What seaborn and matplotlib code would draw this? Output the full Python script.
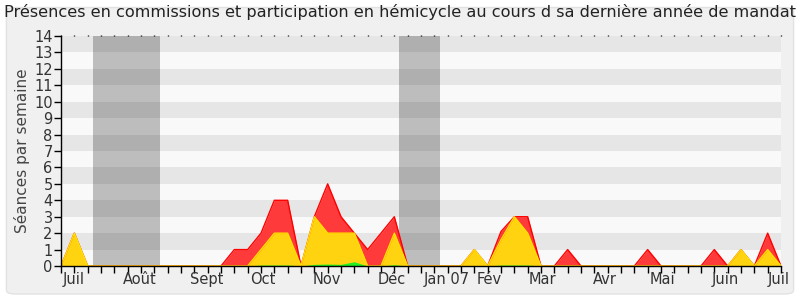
import numpy as np
import pandas as pd
import matplotlib
matplotlib.use("Agg")
import matplotlib.pyplot as plt
from matplotlib.patches import FancyBboxPatch
import seaborn as sns

# ---- data (weekly values, 55 weeks) ----
hemicycle = [0, 2, 0, 0, 0, 0, 0, 0, 0, 0, 0, 0, 0, 1, 1, 2, 4, 4, 0, 3,
             5, 3, 2, 1, 2, 3, 0, 0, 0, 0, 0, 1, 0, 2.1, 3, 3, 0, 0, 1, 0,
             0, 0, 0, 0, 1, 0, 0, 0, 0, 1, 0, 1, 0, 2, 0]
commission = [0, 2, 0, 0, 0, 0, 0, 0, 0, 0, 0, 0, 0, 0, 0, 1, 2, 2, 0, 3,
              2, 2, 2, 0, 0, 2, 0, 0, 0, 0, 0, 1, 0, 1.6, 3, 2, 0, 0, 0, 0,
              0, 0, 0, 0, 0, 0, 0, 0, 0, 0, 0, 1, 0, 1, 0]
questions = [0, 0, 0, 0, 0, 0, 0, 0, 0, 0, 0, 0, 0, 0, 0, 0.06, 0.06, 0.06, 0, 0.1,
             0.12, 0.1, 0.26, 0, 0, 0.08, 0, 0, 0, 0, 0, 0, 0, 0.06, 0.06, 0.06, 0, 0, 0, 0,
             0, 0, 0, 0, 0, 0, 0, 0, 0, 0, 0, 0, 0, 0, 0]
month_labels = ["Juil", "Août", "Sept", "Oct", "Nov", "Déc", "Jan 07", "Fév",
                "Mar", "Avr", "Mai", "Juin", "Juil"]
month_pos = [0.92, 5.87, 10.9, 15.1, 19.95, 24.8, 28.9, 32.1, 36.1, 40.8, 45.1, 49.8, 53.8]
vacances = [(2.42, 7.45), (25.37, 28.45)]

weeks = np.arange(len(hemicycle))
df = pd.DataFrame({"semaine": weeks, "hemicycle": hemicycle,
                   "commission": commission, "questions": questions})

sns.set_style("white")
plt.rcParams['font.family'] = ['DejaVu Sans']

fig = plt.figure(figsize=(8, 3), dpi=100)
fig.patch.set_facecolor("white")
bg = FancyBboxPatch((0.008, 0.02), 0.984, 0.955, boxstyle="round,pad=0,rounding_size=0.012",
                    transform=fig.transFigure, facecolor="#F0F0F0", edgecolor="#E2E2E2",
                    linewidth=1.0, zorder=-10)
fig.patches.append(bg)

ax = fig.add_axes([0.07625, 0.1133, 0.9, 0.7667])
ax.set_zorder(1)
ax.set_facecolor("#F9F9F9")
ax.set_xlim(0, 54)
ax.set_ylim(0, 14)

# horizontal stripes
for k in range(1, 14, 2):
    ax.axhspan(k, k + 1, color="#E6E6E6", zorder=0.5, lw=0)
# vacation bands
for a, b in vacances:
    ax.axvspan(a, b, color="black", alpha=0.24, zorder=0.6, lw=0)

# areas
ax.fill_between(df["semaine"], df["hemicycle"], color="#FF3A3A", zorder=2, lw=0)
sns.lineplot(data=df, x="semaine", y="hemicycle", ax=ax, color="#FF0000", lw=1.0, zorder=2.1)
ax.fill_between(df["semaine"], df["commission"], color="#FFD30F", zorder=3, lw=0)
sns.lineplot(data=df, x="semaine", y="commission", ax=ax, color="#FFE000", lw=1.0, zorder=3.1)
ax.fill_between(df["semaine"], df["questions"], color="#22EE22", zorder=4, lw=0)

# axes styling
for s in ["top", "right"]:
    ax.spines[s].set_visible(False)
for s in ["left", "bottom"]:
    ax.spines[s].set_color("black")
    ax.spines[s].set_linewidth(1.0)
    ax.spines[s].set_zorder(5)

ax.set_yticks(range(0, 15))
ax.set_yticklabels([str(v) for v in range(0, 15)])
ax.tick_params(axis="y", left=True, length=5, width=1, color="black",
               labelsize=10.5, labelcolor="#333333", pad=1)

ax.set_xticks(weeks)
ax.set_xticklabels([""] * len(weeks))
ax.tick_params(axis="x", which="major", bottom=True, top=True, direction="out",
               length=5, width=1, color="black")
ax.set_xticks(month_pos, minor=True)
ax.set_xticklabels(month_labels, minor=True)
ax.tick_params(axis="x", which="minor", length=0, labelsize=10.5,
               labelcolor="#333333", pad=4)
# top dots
for t in ax.xaxis.get_major_ticks():
    t.tick2line.set_markersize(1.0)

ax.set_xlabel("")
ax.set_ylabel("Séances par semaine", fontsize=11, color="#444444", labelpad=3)

fig.suptitle("Présences en commissions et participation en hémicycle au cours d sa dernière année de mandat",
             x=0.5, y=0.985, fontsize=11.6, color="#222222", va="top")

fig.savefig("out.png", dpi=100)
